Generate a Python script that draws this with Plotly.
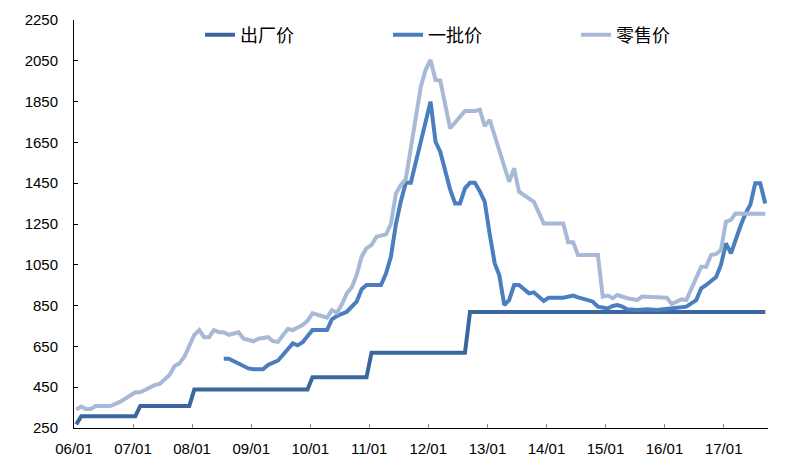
import plotly.graph_objects as go

# 出厂价 (ex-factory price), monthly step changes
factory_dates = ["2006-01-15", "2006-02-15", "2007-01-15", "2007-02-15", "2007-12-15",
                 "2008-01-15", "2009-12-15", "2010-01-15", "2010-12-15", "2011-01-15",
                 "2012-08-15", "2012-09-15", "2017-09-15"]
factory_prices = [268, 308, 308, 358, 358,
                  439, 439, 499, 499, 619,
                  619, 819, 819]

# 一批价 (first-tier wholesale price)
wholesale_dates = ["2008-07-15", "2008-08-15", "2008-12-15", "2009-01-15", "2009-03-15",
                   "2009-04-15", "2009-06-15", "2009-07-15", "2009-09-15", "2009-10-15",
                   "2009-11-15", "2010-01-15", "2010-04-15", "2010-05-15", "2010-06-15",
                   "2010-08-15", "2010-10-15", "2010-11-15", "2010-12-15", "2011-03-15",
                   "2011-04-15", "2011-05-15", "2011-06-15", "2011-07-15", "2011-08-15",
                   "2011-09-15", "2012-01-15", "2012-02-15", "2012-03-15", "2012-05-15",
                   "2012-06-15", "2012-07-15", "2012-08-15", "2012-09-15", "2012-10-15",
                   "2012-11-15", "2012-12-15", "2013-01-15", "2013-02-15", "2013-03-15",
                   "2013-04-15", "2013-05-15", "2013-06-15", "2013-07-15", "2013-09-15",
                   "2013-10-15", "2013-11-15", "2013-12-15", "2014-01-15", "2014-04-15",
                   "2014-06-15", "2014-07-15", "2014-09-15", "2014-10-15", "2014-11-15",
                   "2015-01-15", "2015-02-15", "2015-03-15", "2015-04-15", "2015-05-15",
                   "2015-07-15", "2015-09-15", "2015-11-15", "2016-01-15", "2016-03-15",
                   "2016-05-15", "2016-07-15", "2016-08-15", "2016-09-15", "2016-10-15",
                   "2016-11-15", "2016-12-15", "2017-01-15", "2017-02-15", "2017-03-15",
                   "2017-04-15", "2017-05-15", "2017-06-15", "2017-07-15", "2017-08-15",
                   "2017-09-15"]
wholesale_prices = [590, 590, 542, 538, 538,
                    559, 580, 608, 665, 655,
                    670, 730, 730, 783, 799,
                    820, 869, 930, 951, 951,
                    1008, 1090, 1250, 1360, 1452,
                    1452, 1850, 1653, 1604, 1420,
                    1351, 1351, 1425, 1452, 1452,
                    1410, 1359, 1200, 1057, 1000,
                    853, 877, 951, 951, 910,
                    915, 894, 873, 889, 889,
                    899, 890, 877, 869, 845,
                    836, 848, 853, 845, 832,
                    828, 832, 828, 833, 840,
                    845, 877, 935, 951, 970,
                    990, 1049, 1155, 1106, 1175,
                    1240, 1300, 1345, 1450, 1450,
                    1350]

# 零售价 (retail price)
retail_dates = ["2006-01-15", "2006-02-15", "2006-03-15", "2006-04-15", "2006-05-15",
                "2006-08-15", "2006-10-15", "2006-11-15", "2006-12-15", "2007-01-15",
                "2007-02-15", "2007-03-15", "2007-05-15", "2007-06-15", "2007-07-15",
                "2007-08-15", "2007-09-15", "2007-10-15", "2007-11-15", "2008-01-15",
                "2008-02-15", "2008-03-15", "2008-04-15", "2008-05-15", "2008-06-15",
                "2008-07-15", "2008-08-15", "2008-10-15", "2008-11-15", "2009-01-15",
                "2009-02-15", "2009-04-15", "2009-05-15", "2009-06-15", "2009-08-15",
                "2009-09-15", "2009-10-15", "2009-11-15", "2009-12-15", "2010-01-15",
                "2010-02-15", "2010-04-15", "2010-05-15", "2010-06-15", "2010-07-15",
                "2010-08-15", "2010-09-15", "2010-10-15", "2010-11-15", "2010-12-15",
                "2011-01-15", "2011-02-15", "2011-04-15", "2011-05-15", "2011-06-15",
                "2011-07-15", "2011-08-15", "2011-09-15", "2011-10-15", "2011-11-15",
                "2011-12-15", "2012-01-15", "2012-02-15", "2012-03-15", "2012-05-15",
                "2012-08-15", "2012-10-15", "2012-11-15", "2012-12-15", "2013-01-15",
                "2013-05-15", "2013-06-15", "2013-07-15", "2013-08-15", "2013-10-15",
                "2013-12-15", "2014-04-15", "2014-05-15", "2014-06-15", "2014-07-15",
                "2014-11-15", "2014-12-15", "2015-01-15", "2015-02-15", "2015-03-15",
                "2015-05-15", "2015-07-15", "2015-08-15", "2016-01-15", "2016-02-15",
                "2016-04-15", "2016-05-15", "2016-07-15", "2016-08-15", "2016-09-15",
                "2016-10-15", "2016-11-15", "2016-12-15", "2017-01-15", "2017-02-15",
                "2017-03-15", "2017-09-15"]
retail_prices = [340, 355, 343, 343, 358,
                 358, 379, 395, 405, 425,
                 425, 437, 460, 466, 488,
                 510, 554, 567, 600, 706,
                 730, 695, 695, 730, 719,
                 719, 707, 719, 688, 675,
                 688, 695, 676, 672, 735,
                 730, 743, 755, 775, 812,
                 805, 791, 828, 815, 855,
                 910, 940, 1000, 1090, 1131,
                 1147, 1188, 1199, 1250, 1400,
                 1440, 1470, 1620, 1770, 1920,
                 2005, 2054, 1956, 1953, 1719,
                 1804, 1804, 1810, 1730, 1760,
                 1457, 1523, 1408, 1392, 1359,
                 1253, 1253, 1160, 1160, 1098,
                 1098, 894, 899, 886, 902,
                 886, 877, 894, 889, 858,
                 881, 877, 992, 1041, 1041,
                 1098, 1103, 1123, 1261, 1270,
                 1302, 1300]

y_ticks = list(range(250, 2251, 200))

series = [
    ("出厂价", factory_dates, factory_prices, "#3B679E"),
    ("一批价", wholesale_dates, wholesale_prices, "#4A7EBF"),
    ("零售价", retail_dates, retail_prices, "#A7B9D7"),
]

fig = go.Figure()
for name, dates, prices, color in series:
    fig.add_trace(go.Scatter(
        x=dates, y=prices, name=name, mode="lines",
        line=dict(color=color, width=4),
    ))

axis_font = dict(family="Liberation Sans, Arial, sans-serif", size=15, color="#000000")

fig.update_layout(
    width=792, height=466,
    margin=dict(l=74, r=24, t=20, b=38),
    paper_bgcolor="white", plot_bgcolor="white",
    showlegend=True,
    legend=dict(
        orientation="h", x=0.1816, xanchor="left", y=0.963, yanchor="middle",
        entrywidth=143, entrywidthmode="pixels",
        font=dict(family="Noto Sans CJK SC", size=18, color="#000000"),
        bgcolor="rgba(0,0,0,0)", traceorder="normal",
    ),
    xaxis=dict(
        type="date", range=["2006-01-01", "2017-10-02"],
        tick0="2006-01-01", dtick="M12", tickformat="%y/%m",
        showline=True, linecolor="#000000", linewidth=1,
        ticks="inside", ticklen=4, tickcolor="#888888",
        showgrid=False, zeroline=False, tickfont=axis_font,
        ticklabelstandoff=7, automargin=False,
    ),
    yaxis=dict(
        range=[250, 2250], tickvals=y_ticks,
        showline=True, linecolor="#000000", linewidth=1,
        ticks="inside", ticklen=4, tickcolor="#000000",
        showgrid=False, zeroline=False, tickfont=axis_font,
        ticklabelstandoff=12, automargin=False,
    ),
)

fig.write_html("out.html")
